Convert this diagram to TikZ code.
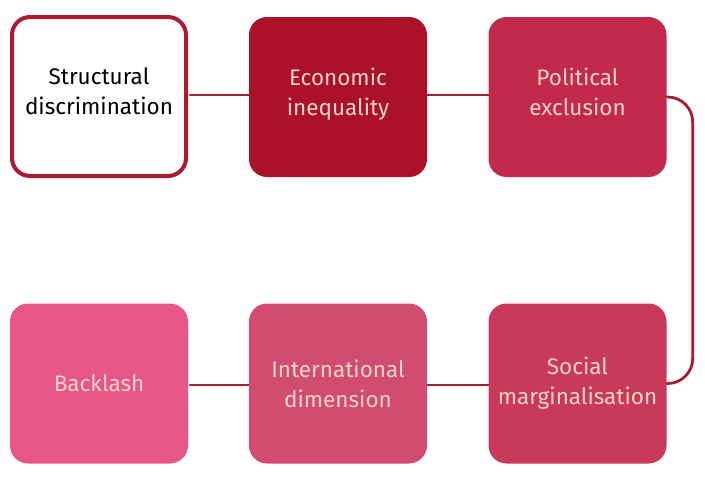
\documentclass[tikz,border=0pt]{standalone}
\usepackage{fontspec}
\setmainfont{Fira Sans}
\definecolor{linkred}{HTML}{AC1A30}
\definecolor{econred}{HTML}{AB1229}
\definecolor{polred}{HTML}{C2294A}
\definecolor{socred}{HTML}{C8395A}
\definecolor{intred}{HTML}{D24B70}
\definecolor{backred}{HTML}{E85688}
\definecolor{paletext}{HTML}{FAD4C8}
\begin{document}
\begin{tikzpicture}[x=1pt,y=-1pt, font=\fontsize{22.5}{30}\selectfont, line join=round, line cap=round]
			\useasboundingbox (0,0) rectangle (705,477);
			\tikzset{box/.style={rounded corners=18pt, minimum width=178pt, minimum height=160pt, align=center, text=paletext, inner sep=0pt},
				link/.style={draw=linkred, line width=2.8pt}}
			\draw[link] (190,95)--(250,95) (427,95)--(490,95);
			\draw[link] (190,385)--(250,385) (427,385)--(490,385);
			\node[box, draw=linkred, line width=4pt, fill=white, text=black, minimum width=174pt, minimum height=159pt] (struct) at (99,96.5) {Structural\\discrimination\\[-20pt]};
			\node[box, fill=econred] (econ) at (338,97) {Economic\\inequality\\[-20pt]};
			\node[box, fill=polred] (pol) at (577.5,97) {Political\\exclusion\\[-20pt]};
			\node[box, fill=socred] (soc) at (577.5,383.5) {Social\\marginalisation};
			\node[box, fill=intred] (intl) at (338,383.5) {International\\dimension};
			\node[box, fill=backred] (back) at (99,383.5) {Backlash};
			\draw[link, rounded corners=25pt] (pol.east) -- ++(26,0) |- (soc.east);
		\end{tikzpicture}
\end{document}
